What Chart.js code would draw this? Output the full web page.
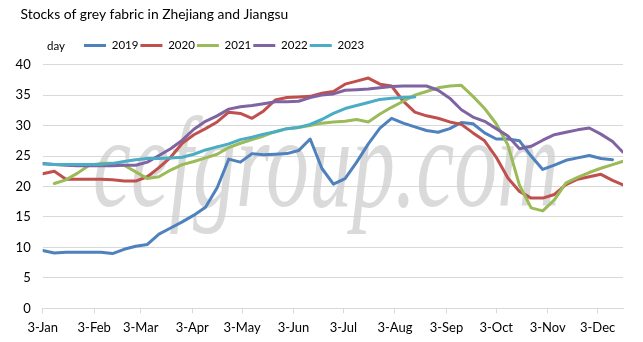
<!DOCTYPE html>
<html>
<head>
<meta charset="utf-8">
<script src="https://cdn.jsdelivr.net/npm/chart.js@4.4.1/dist/chart.umd.min.js"></script>
<style>
html,body{margin:0;padding:0;background:#fff;}
#wrap{width:643px;height:342px;position:relative;}
</style>
</head>
<body>
<div id="wrap"><canvas id="c"></canvas></div>
<script>
// ---- data ----
const chartTitle = 'Stocks of grey fabric in Zhejiang and Jiangsu';
const unitLabel = 'day';
const seriesNames = ['2019', '2020', '2021', '2022', '2023'];
// days after 3-Jan for each weekly reading
const weekDays = [0,7,14,21,28,35,42,49,56,63,70,77,84,91,98,105,112,119,126,133,140,147,154,161,168,175,182,189,196,203,210,217,224,231,238,245,252,259,266,273,280,287,294,301,308,315,322,329,336,343,349];
const s2019 = [9.5,9.1,9.2,9.2,9.2,9.2,9.0,9.7,10.2,10.5,12.2,13.2,14.2,15.3,16.6,19.8,24.5,24.0,25.4,25.2,25.3,25.4,25.9,27.8,23.0,20.4,21.3,24.0,27.0,29.6,31.2,30.4,29.8,29.2,28.9,29.5,30.5,30.3,28.8,27.8,27.8,27.5,25.0,22.8,23.5,24.3,24.7,25.1,24.6,24.4,null];
const s2020 = [22.1,22.5,21.2,21.2,21.2,21.2,21.1,20.9,20.9,21.6,23.1,24.8,27.1,28.5,29.5,30.6,32.2,32.0,31.2,32.4,34.2,34.6,34.7,34.8,35.3,35.6,36.8,37.3,37.8,36.8,36.5,34.0,32.2,31.6,31.2,30.6,30.2,28.8,27.5,24.8,21.4,19.2,18.1,18.1,18.7,20.3,21.2,21.6,22.0,21.0,20.3];
const s2021 = [null,20.5,21.1,22.2,23.5,23.8,23.8,23.5,22.4,21.3,21.6,22.7,23.6,24.1,24.7,25.3,26.4,27.1,27.7,28.3,29.0,29.5,29.7,30.0,30.4,30.6,30.7,31.0,30.6,31.9,33.0,34.0,35.0,35.6,36.2,36.5,36.6,34.8,32.8,30.3,26.8,20.2,16.5,16.0,17.8,20.6,21.5,22.3,23.0,23.6,24.1];
const s2022 = [23.8,23.6,23.5,23.4,23.4,23.4,23.4,23.5,23.5,24.0,25.1,26.2,27.6,29.4,30.7,31.6,32.7,33.1,33.3,33.6,33.9,33.9,34.0,34.6,35.0,35.2,35.8,35.9,36.0,36.2,36.4,36.5,36.5,36.5,35.8,34.5,32.6,31.4,30.7,29.5,28.3,26.2,26.6,27.6,28.5,28.9,29.3,29.6,28.6,27.4,25.7];
const s2023 = [23.7,23.6,23.6,23.6,23.6,23.6,23.8,24.1,24.4,24.6,24.6,24.7,24.8,25.3,26.0,26.5,27.0,27.7,28.1,28.6,29.0,29.5,29.7,30.2,31.0,32.0,32.8,33.3,33.8,34.3,34.5,34.6,34.7,null,null,null,null,null,null,null,null,null,null,null,null,null,null,null,null,null,null];
const tickDays = [0,31,59,90,120,151,181,212,243,273,304,334];
const tickLabels = ['3-Jan','3-Feb','3-Mar','3-Apr','3-May','3-Jun','3-Jul','3-Aug','3-Sep','3-Oct','3-Nov','3-Dec'];
const yTicks = [0,5,10,15,20,25,30,35,40];
const watermark = 'cefgroup.com';

// ---- styling ----
const FONT = 'Lato, "Open Sans", sans-serif';
const colors = ['#4F81BD', '#C0504D', '#9BBB59', '#8064A2', '#4BACC6'];
const GRID = '#d9d9d9';
const allSeries = [s2019, s2020, s2021, s2022, s2023];

// pick a title size whose width matches the original title line
function fitSize(text, family, target, fallback) {
  const cv = document.createElement('canvas').getContext('2d');
  cv.font = '100px ' + family;
  const w = cv.measureText(text).width;
  return w > 0 ? Math.min(17, Math.max(12, 100 * target / w)) : fallback;
}
const TITLE_SIZE = fitSize(chartTitle, FONT, 268, 15);

const datasets = allSeries.map((s, i) => ({
  label: seriesNames[i],
  data: weekDays.map((d, j) => ({x: d, y: s[j]})),
  borderColor: colors[i],
  backgroundColor: colors[i],
  borderWidth: 3,
  pointRadius: 0,
  pointHoverRadius: 0,
  tension: 0,
  borderJoinStyle: 'round',
  borderCapStyle: 'round',
  spanGaps: false,
  order: allSeries.length - i
}));

const TITLE_X = 20.5;
const LEGEND_X = 84;
const LEGEND_CY = 45.5;
const LEGEND_PAD = 2;
const LEGEND_FONT = 11.5;

const extras = {
  id: 'extras',
  afterLayout(chart) {
    const t = chart.titleBlock;
    if (t) { const dx = TITLE_X - t.left; t.left += dx; t.right += dx; }
    const lg = chart.legend;
    if (lg) {
      const w = lg.right - lg.left, h = lg.bottom - lg.top;
      lg.left = LEGEND_X - LEGEND_PAD;
      lg.right = lg.left + w;
      lg.top = LEGEND_CY - LEGEND_PAD - LEGEND_FONT / 2;
      lg.bottom = lg.top + h;
    }
  },
  beforeDatasetsDraw(chart) {
    const ctx = chart.ctx;
    ctx.save();
    ctx.font = 'italic 130px "Liberation Serif", "DejaVu Serif", serif';
    ctx.fillStyle = 'rgba(205,205,205,0.75)';
    ctx.textBaseline = 'alphabetic';
    ctx.translate(93, 206);
    ctx.scale(0.66, 1);
    ctx.fillText(watermark, 0, 0);
    ctx.restore();
  },
  afterDraw(chart) {
    const ctx = chart.ctx;
    ctx.save();
    ctx.font = LEGEND_FONT + 'px ' + FONT;
    ctx.fillStyle = '#000';
    ctx.textBaseline = 'middle';
    ctx.textAlign = 'left';
    ctx.fillText(unitLabel, 47, LEGEND_CY + 0.5);
    ctx.restore();
  }
};

new Chart(document.getElementById('c'), {
  type: 'line',
  data: { datasets },
  options: {
    responsive: true,
    maintainAspectRatio: false,
    animation: false,
    events: [],
    layout: { padding: { left: 14, right: 20, top: 0, bottom: 0 } },
    plugins: {
      title: {
        display: true,
        text: chartTitle,
        align: 'start',
        color: '#000',
        font: { family: FONT, size: TITLE_SIZE, weight: 'normal' },
        padding: { top: 6.5, bottom: 18 }
      },
      legend: {
        display: true,
        position: 'top',
        align: 'start',
        labels: {
          boxWidth: 22,
          boxHeight: 3,
          padding: LEGEND_PAD,
          color: '#000',
          font: { family: FONT, size: LEGEND_FONT },
          sort: (a, b) => a.datasetIndex - b.datasetIndex,
          generateLabels: (chart) => Chart.defaults.plugins.legend.labels.generateLabels(chart).map(l => Object.assign(l, { lineWidth: 0, fillStyle: l.strokeStyle }))
        }
      },
      tooltip: { enabled: false }
    },
    scales: {
      x: {
        type: 'linear',
        min: 0,
        max: 349.3,
        afterBuildTicks: (scale) => { scale.ticks = tickDays.map(v => ({ value: v })); },
        ticks: {
          autoSkip: false,
          maxRotation: 0,
          color: '#000',
          font: { family: FONT, size: 13 },
          padding: 6.5,
          callback: (v) => { const i = tickDays.indexOf(v); return i >= 0 ? tickLabels[i] : ''; }
        },
        grid: { display: true, drawOnChartArea: false, drawTicks: true, tickLength: 5, color: GRID },
        border: { display: true, color: GRID, width: 1 }
      },
      y: {
        min: 0,
        max: 40,
        afterBuildTicks: (scale) => { scale.ticks = yTicks.map(v => ({ value: v })); },
        afterFit: (scale) => { scale.width = 28.7; },
        ticks: {
          color: '#000',
          font: { family: FONT, size: 13 },
          padding: 12
        },
        grid: { color: GRID, drawTicks: false, lineWidth: 1 },
        border: { display: false }
      }
    }
  },
  plugins: [extras]
});
</script>
</body>
</html>
